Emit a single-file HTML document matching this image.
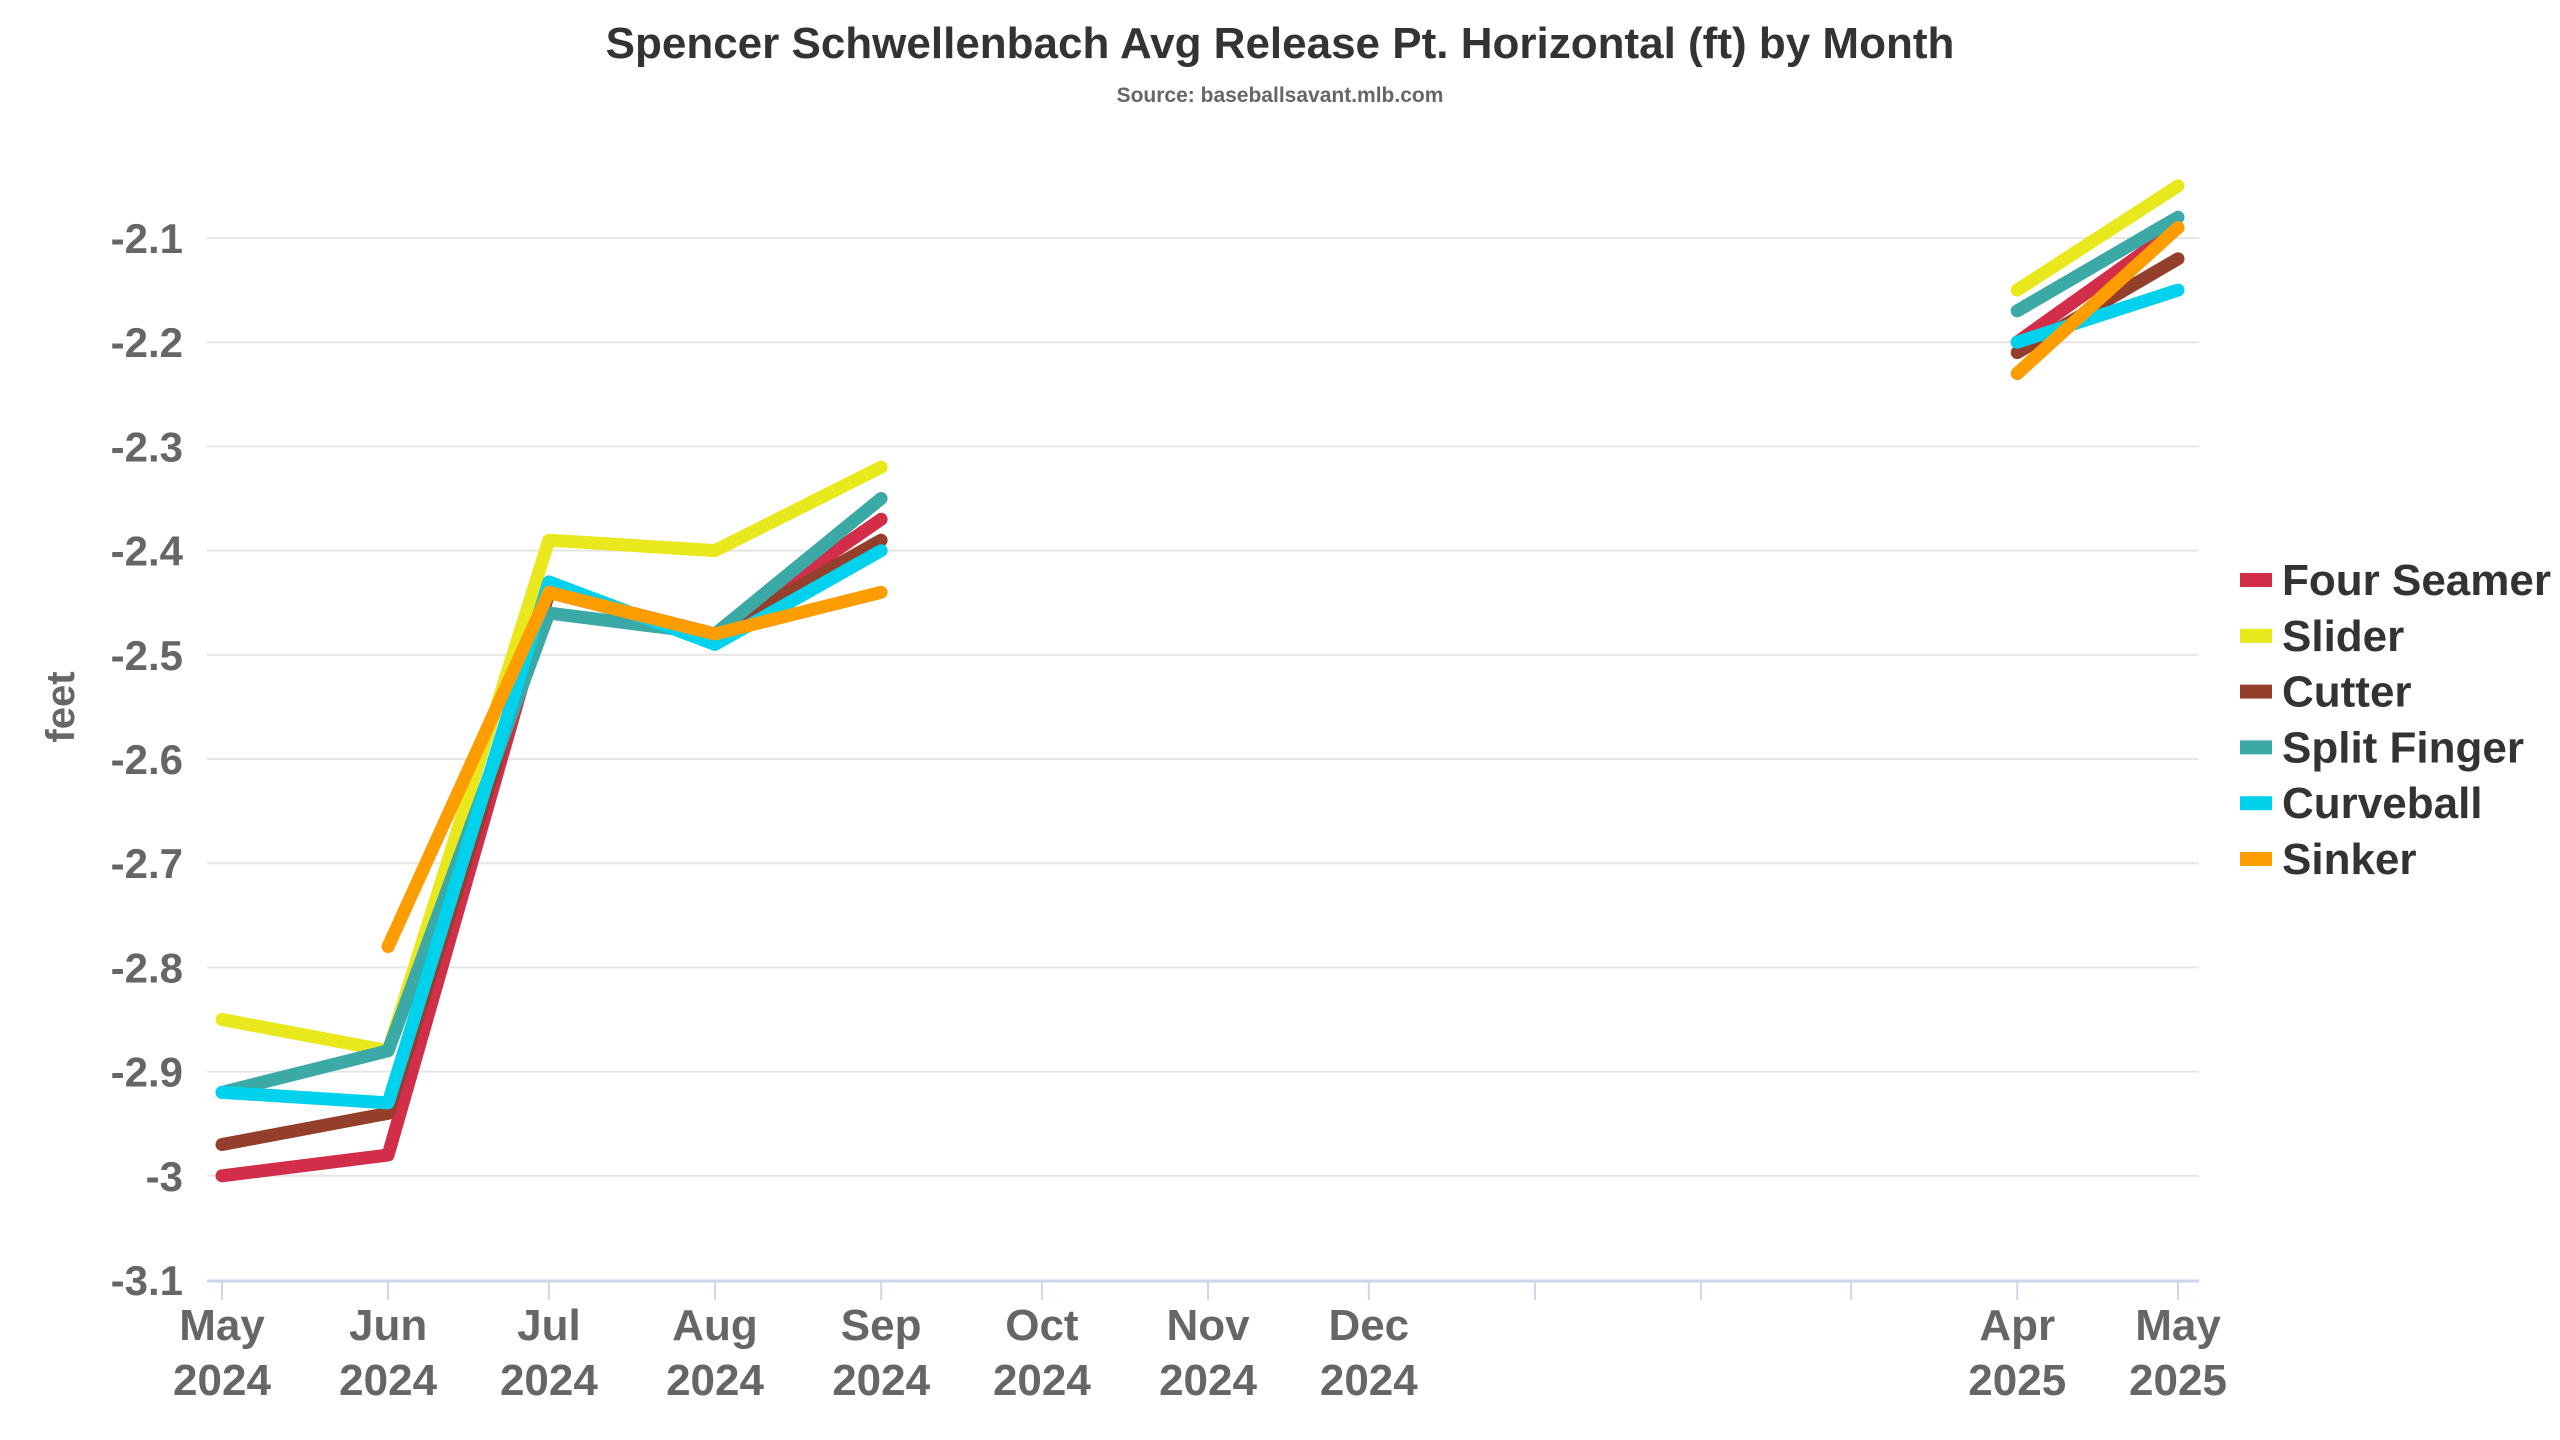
<!DOCTYPE html>
<html><head><meta charset="utf-8"><style>
html,body{margin:0;padding:0;background:#fff;}
svg{display:block;font-family:"Liberation Sans Narrow","Liberation Sans",sans-serif;font-weight:bold;}
</style></head><body>
<svg id="chart" width="2560" height="1440" viewBox="0 0 2560 1440" xmlns="http://www.w3.org/2000/svg">
<text x="1280" y="58" text-anchor="middle" font-size="44" fill="#333">Spencer Schwellenbach Avg Release Pt. Horizontal (ft) by Month</text>
<text x="1280" y="102" text-anchor="middle" font-size="21" fill="#666">Source: baseballsavant.mlb.com</text>
<text transform="translate(74,707) rotate(-90)" text-anchor="middle" font-size="40" fill="#666">feet</text>
<g id="grid"></g><g id="xaxis"></g><g id="series"></g><g id="legend"></g>
</svg>
<script>
const months = ["2024-05","2024-06","2024-07","2024-08","2024-09","2025-04","2025-05"];
const tickMonths = ["2024-05","2024-06","2024-07","2024-08","2024-09","2024-10","2024-11","2024-12","2025-01","2025-02","2025-03","2025-04","2025-05"];
const tickLabels = ["May|2024","Jun|2024","Jul|2024","Aug|2024","Sep|2024","Oct|2024","Nov|2024","Dec|2024","","","","Apr|2025","May|2025"];
const yTicks = [-2.1,-2.2,-2.3,-2.4,-2.5,-2.6,-2.7,-2.8,-2.9,-3,-3.1];
const seriesNames = ["Four Seamer","Slider","Cutter","Split Finger","Curveball","Sinker"];
const seriesColors = ["#d22d49","#e8e81c","#933f2c","#3ba9a6","#00d1ed","#fe9d00"];
const fourSeamer = [-3.0,-2.98,-2.44,-2.48,-2.37,-2.20,-2.09];
const slider = [-2.85,-2.88,-2.39,-2.40,-2.32,-2.15,-2.05];
const cutter = [-2.97,-2.94,-2.44,-2.48,-2.39,-2.21,-2.12];
const splitFinger = [-2.92,-2.88,-2.46,-2.48,-2.35,-2.17,-2.08];
const curveball = [-2.92,-2.93,-2.43,-2.49,-2.40,-2.20,-2.15];
const sinker = [null,-2.78,-2.44,-2.48,-2.44,-2.23,-2.09];
const seriesValues = [fourSeamer,slider,cutter,splitFinger,curveball,sinker];

const NS="http://www.w3.org/2000/svg";
const t0=Date.UTC(2024,4,1), t1=Date.UTC(2025,4,1);
function dt(m){const [y,mo]=m.split("-").map(Number);return Date.UTC(y,mo-1,1);}
function xs(m){return 222+(dt(m)-t0)/(t1-t0)*(2178-222);}
function ys(v){return 238+(-2.1-v)/1.0*(1280-238);}
function mk(tag,attrs,parent){const e=document.createElementNS(NS,tag);for(const k in attrs)e.setAttribute(k,attrs[k]);parent.appendChild(e);return e;}
const grid=document.getElementById("grid");
yTicks.forEach(v=>{
  const y=ys(v);
  if(v>-3.05){const l=mk("line",{x1:207,x2:2199,y1:y,y2:y,stroke:"#e6e6e6","stroke-width":2},grid);
  
  }
  const t=mk("text",{x:183,y:y+15,"text-anchor":"end","font-size":42,fill:"#666"},grid);
  
  
  t.textContent=String(v);
});
const xa=document.getElementById("xaxis");
const ax=mk("line",{x1:207,x2:2199,y1:1281,y2:1281,stroke:"#ccd6eb","stroke-width":3},xa);


tickMonths.forEach((m,i)=>{
  const x=xs(m);
  const tk=mk("line",{x1:x,x2:x,y1:1281,y2:1300,stroke:"#ccd6eb","stroke-width":2},xa);
  
  
  const parts=tickLabels[i].split("|");
  if(parts[0]){
    const t=mk("text",{x:x,y:1340,"text-anchor":"middle","font-size":44,fill:"#666"},xa);
    
    
    const a=mk("tspan",{x:x,dy:0},t);a.textContent=parts[0];
    const b=mk("tspan",{x:x,dy:55},t);b.textContent=parts[1];
  }
});
const sg=document.getElementById("series");
seriesValues.forEach((vals,si)=>{
  let segs=[],cur=[];
  vals.forEach((v,i)=>{
    if(v===null){if(cur.length)segs.push(cur);cur=[];return;}
    if(i>0&&months[i]==="2025-04"){if(cur.length)segs.push(cur);cur=[];}
    cur.push(xs(months[i]).toFixed(1)+","+ys(v).toFixed(1));
  });
  if(cur.length)segs.push(cur);
  segs.forEach(s=>{
    const p=mk("polyline",{points:s.join(" "),fill:"none",stroke:seriesColors[si],"stroke-width":13,"stroke-linecap":"round","stroke-linejoin":"round"},sg);
    
    
  });
});
const lg=document.getElementById("legend");
seriesNames.forEach((n,i)=>{
  const y=580+i*55.8;
  const g=mk("g",{},lg);
  
  
  mk("rect",{x:2240,y:y-7,width:32,height:14,fill:seriesColors[i]},g);
  const t=mk("text",{x:2282,y:y+15,"font-size":44,fill:"#333"},g);
  t.textContent=n;
});
</script>
</body></html>
